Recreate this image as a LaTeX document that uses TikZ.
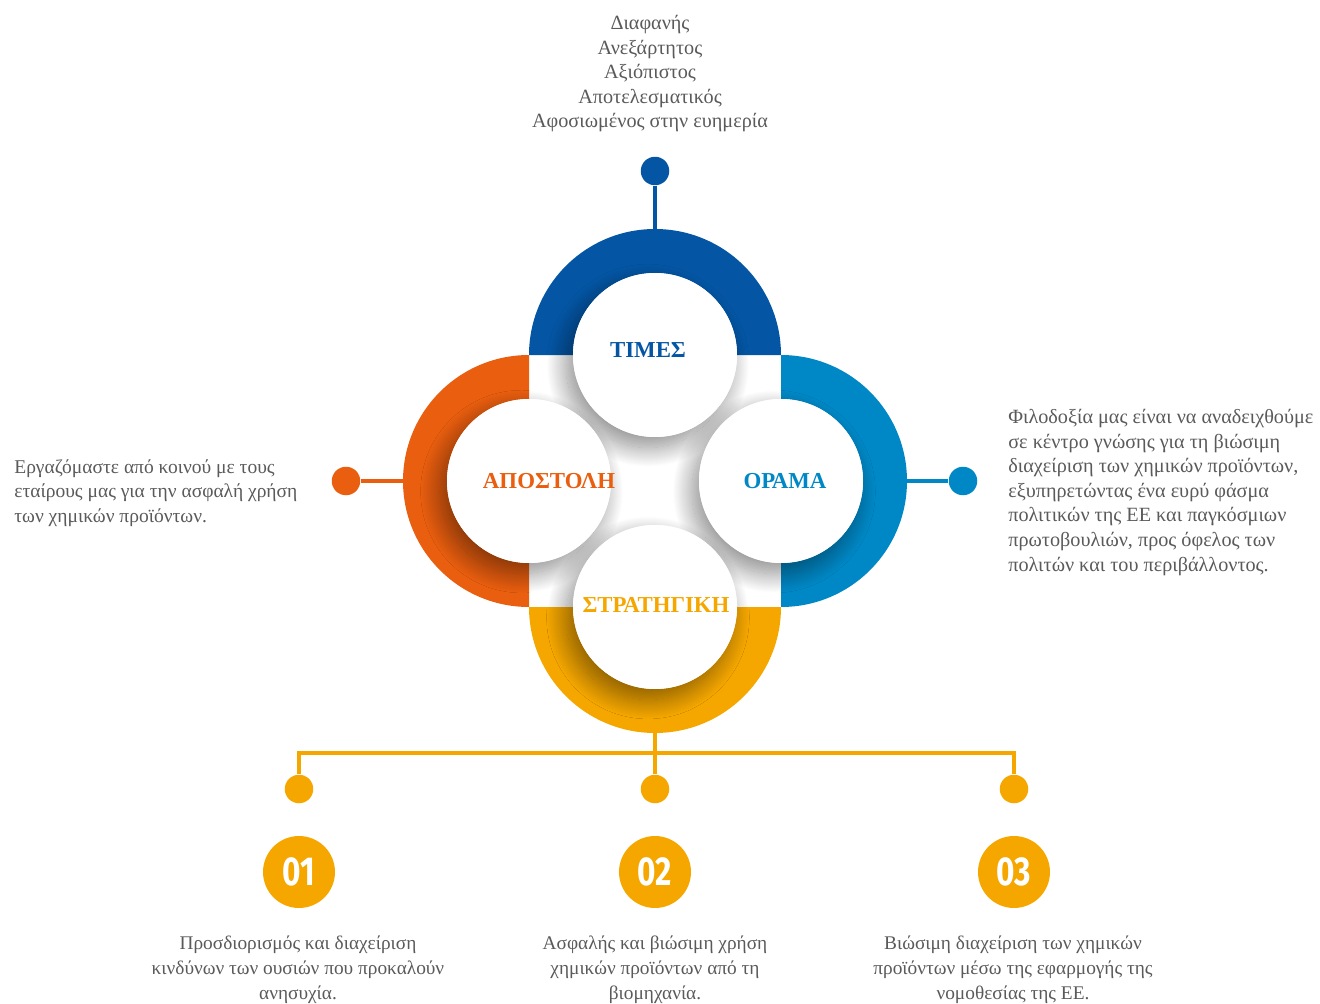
\documentclass[tikz,border=0pt]{standalone}
\usepackage{fontspec}
\setmainfont{Liberation Serif}
\newfontfamily\numfont{Fira Sans}
\usetikzlibrary{positioning,shadows.blur}
\definecolor{timesblue}{HTML}{0456A5}
\definecolor{visionblue}{HTML}{0088C6}
\definecolor{missionorange}{HTML}{E95E0F}
\definecolor{stratyellow}{HTML}{F5A700}
\definecolor{bodygray}{HTML}{5A5A5A}
\tikzset{
  leaf/.style={circle, fill=white, minimum size=3.28cm, inner sep=0pt},
  leafshade/.style={fill=white, blur shadow={shadow xshift=-4pt, shadow yshift=-6pt, shadow blur radius=11pt, shadow blur steps=30, shadow opacity=45}},
  title/.style={inner sep=0pt, font=\fontsize{13}{15}\selectfont\bfseries},
  blurb/.style={inner sep=0pt, text=bodygray, font=\fontsize{11.5}{14}\selectfont},
  pin/.style={circle, minimum size=0.57cm, inner sep=0pt},
  badge/.style={circle, fill=stratyellow, minimum size=1.44cm, inner sep=0pt, text=white, font=\numfont\fontsize{23}{23}\selectfont\bfseries},
  stem/.style={line width=2.3pt},
}

\begin{document}
\begin{tikzpicture}[x=0.02cm, y=-0.02cm]
\useasboundingbox (0,0) rectangle (1320,1004);

% half rings
\fill[timesblue] (529,355) arc[start angle=180, end angle=360, radius=126] -- cycle;
\fill[missionorange] (529,607) arc[start angle=90, end angle=270, radius=126] -- cycle;
\fill[visionblue] (781,355) arc[start angle=-90, end angle=90, radius=126] -- cycle;
\fill[stratyellow] (781,607) arc[start angle=0, end angle=180, radius=126] -- cycle;

\foreach \cx/\cy in {655/355, 529/481, 781/481, 655/607}
  {
  \path[leafshade] (\cx,\cy) circle[radius=82];
  }
\node[leaf] (times) at (655,355) {};
\node[leaf] (mission) at (529,481) {};
\node[leaf] (vision) at (781,481) {};
\node[leaf] (strategy) at (655,607) {};

\node[title, text=timesblue] (timesT) at (648,350) {ΤΙΜΕΣ};
\node[title, text=missionorange] (missionT) at (549,481) {ΑΠΟΣΤΟΛΗ};
\node[title, text=visionblue] (visionT) at (785,481) {ΟΡΑΜΑ};
\node[title, text=stratyellow] (strategyT) at (656,605) {ΣΤΡΑΤΗΓΙΚΗ};

% pins
\coordinate (timesTop) at (655,229);
\coordinate (missionEdge) at (403,481);
\coordinate (visionEdge) at (907,481);
\coordinate (strategyBot) at (655,733);
\coordinate (hub) at (655,753);
\node[pin, fill=timesblue] (timesPin) at (655,171) {};
\node[pin, fill=missionorange] (missionPin) at (346,481) {};
\node[pin, fill=visionblue] (visionPin) at (963,481) {};
\draw[stem, timesblue] (timesPin) -- (timesTop);
\draw[stem, missionorange] (missionPin) -- (missionEdge);
\draw[stem, visionblue] (visionEdge) -- (visionPin);

\foreach \px/\n in {299/1, 655/2, 1014/3}
  {
  \node[pin, fill=stratyellow] (stepPin\n) at (\px,789) {};
  \node[badge] (badge\n) at (\px,872) {\scalebox{0.78}[1]{0\n}};
  }
\draw[stem, stratyellow] (strategyBot) -- (hub);
\draw[stem, stratyellow] ([xshift=-1.15pt]stepPin1 |- hub) -- ([xshift=1.15pt]stepPin3 |- hub);
\draw[stem, stratyellow] ([yshift=1.15pt]stepPin1 |- hub) -- (stepPin1);
\draw[stem, stratyellow] (hub) -- (stepPin2);
\draw[stem, stratyellow] ([yshift=1.15pt]stepPin3 |- hub) -- (stepPin3);

% texts
\node[blurb, align=center, anchor=north] (valuesTxt) at (650,15)
  {Διαφανής\\Ανεξάρτητος\\Αξιόπιστος\\Αποτελεσματικός\\Αφοσιωμένος στην ευημερία};
\node[blurb, align=left, anchor=north west, font=\fontsize{11.1}{14}\selectfont] (missionTxt) at (14,459)
  {Εργαζόμαστε από κοινού με τους\\εταίρους μας για την ασφαλή χρήση\\των χημικών προϊόντων.};
\node[blurb, align=left, anchor=north west] (visionTxt) at (1008,409)
  {Φιλοδοξία μας είναι να αναδειχθούμε\\σε κέντρο γνώσης για τη βιώσιμη\\διαχείριση των χημικών προϊόντων,\\εξυπηρετώντας ένα ευρύ φάσμα\\πολιτικών της ΕΕ και παγκόσμιων\\πρωτοβουλιών, προς όφελος των\\πολιτών και του περιβάλλοντος.};
\node[blurb, align=center, anchor=north, font=\fontsize{11}{14}\selectfont] (stepTxt1) at (298,936)
  {Προσδιορισμός και διαχείριση\\κινδύνων των ουσιών που προκαλούν\\ανησυχία.};
\node[blurb, align=center, anchor=north, font=\fontsize{11}{14}\selectfont] (stepTxt2) at (655,936)
  {Ασφαλής και βιώσιμη χρήση\\χημικών προϊόντων από τη\\βιομηχανία.};
\node[blurb, align=center, anchor=north, font=\fontsize{11}{14}\selectfont] (stepTxt3) at (1013,936)
  {Βιώσιμη διαχείριση των χημικών\\προϊόντων μέσω της εφαρμογής της\\νομοθεσίας της ΕΕ.};
\end{tikzpicture}
\end{document}
